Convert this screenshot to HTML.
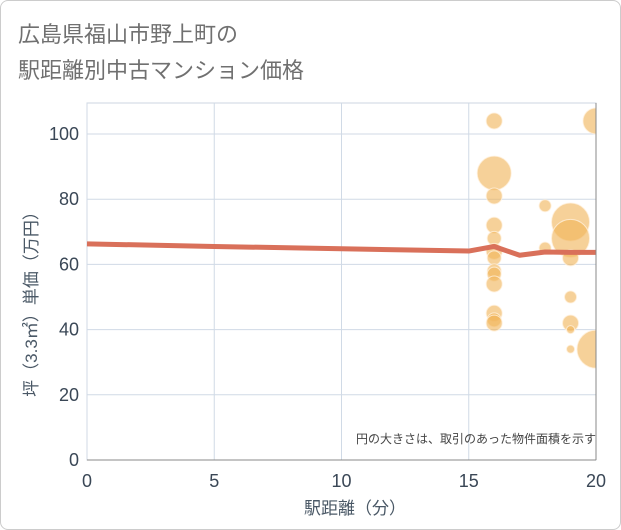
<!DOCTYPE html>
<html><head><meta charset="utf-8"><style>
body{margin:0;background:#fff;font-family:"Liberation Sans","Noto Sans CJK JP",sans-serif}
#wrap{position:relative;width:619px;height:528px;border:1px solid #ccc;border-radius:8px;overflow:hidden;background:#fff}
</style></head><body>
<div id="wrap">
<svg id="chart" width="621" height="530" style="position:absolute;left:-1px;top:-1px">
<defs><clipPath id="plotclip"><rect x="87" y="103" width="509" height="357"/></clipPath></defs>
<text x="18" y="42" font-size="22" fill="#707070" font-family="Liberation Sans,Noto Sans CJK JP,sans-serif">広島県福山市野上町の</text>
<text x="18" y="78" font-size="22" fill="#707070" font-family="Liberation Sans,Noto Sans CJK JP,sans-serif">駅距離別中古マンション価格</text>
<g id="grid"></g><g id="bubbles" clip-path="url(#plotclip)"></g><g id="line"></g><g id="axes"></g>
<text x="596" y="443" font-size="12" fill="#444" text-anchor="end" font-family="Liberation Sans,Noto Sans CJK JP,sans-serif">円の大きさは、取引のあった物件面積を示す</text>
<text x="355" y="514" font-size="17" fill="#4a5866" text-anchor="middle" font-family="Liberation Sans,Noto Sans CJK JP,sans-serif">駅距離（分）</text>
<text transform="translate(37,300) rotate(-90)" font-size="17" fill="#4a5866" text-anchor="middle" font-family="Liberation Sans,Noto Sans CJK JP,sans-serif">坪（3.3㎡）単価（万円）</text>
</svg>
</div>
<script>
const xTicks=[0,5,10,15,20];
const yTicks=[0,20,40,60,80,100];
const bubbleX=[16,16,16,16,16,16,16,16,16,16,16,16,16,18,18,19,19,19,19,19,19,19,20,20];
const bubbleY=[104,88,81,72,68,64,62,58,57,54,45,43,42,78,65,73,68,62,50,42,40,34,104,34];
const bubbleR=[8,17,8,8,7,8,7,7,7,8,8,7,8,6,6,19,19,8,6,8,4,4,13,19];
const lineX=[0,5,10,15,16,17,18,19,20];
const lineY=[66.3,65.5,64.8,64.1,65.5,62.8,63.8,63.7,63.7];
const NS="http://www.w3.org/2000/svg";
const X0=87,X1=596,Y0=460,Y100=134,TOP=103;
const sx=v=>X0+(X1-X0)*v/20, sy=v=>Y0-(Y0-Y100)*v/100;
function mk(t,a,p){const e=document.createElementNS(NS,t);for(const k in a)e.setAttribute(k,a[k]);p.appendChild(e);return e;}
const grid=document.getElementById('grid'),axes=document.getElementById('axes');
mk('rect',{x:X0,y:TOP,width:X1-X0,height:Y0-TOP,fill:'none',stroke:'#ccd6e0'},grid);
xTicks.forEach(v=>{
 const l=mk('line',{x1:sx(v),x2:sx(v),y1:TOP,y2:Y0,stroke:'#d0dae6'},grid);
 
 
 const t=mk('text',{x:sx(v),y:487,'font-size':18,fill:'#3a4756','text-anchor':'middle'},axes);t.textContent=v;
 
 
});
yTicks.forEach(v=>{
 const l=mk('line',{x1:X0,x2:X1,y1:sy(v),y2:sy(v),stroke:'#d0dae6'},grid);
 
 
 const t=mk('text',{x:79,y:sy(v)+6,'font-size':18,fill:'#3a4756','text-anchor':'end'},axes);t.textContent=v;
 
 
});
mk('line',{x1:X1,x2:X1,y1:TOP,y2:Y0,stroke:'#888'},axes);
mk('line',{x1:X0,x2:X1,y1:Y0,y2:Y0,stroke:'#888'},axes);
const bg=document.getElementById('bubbles');
bubbleX.forEach((v,i)=>{
 const c=mk('circle',{cx:sx(v),cy:sy(bubbleY[i]),r:bubbleR[i],fill:'rgba(240,180,90,0.62)',stroke:'rgba(255,240,220,0.8)','stroke-width':1},bg);
 
 
});
const p=mk('polyline',{points:lineX.map((v,i)=>sx(v)+','+sy(lineY[i])).join(' '),fill:'none',stroke:'#d9705a','stroke-width':5,'stroke-linejoin':'round'},document.getElementById('line'));


</script>
</body></html>
